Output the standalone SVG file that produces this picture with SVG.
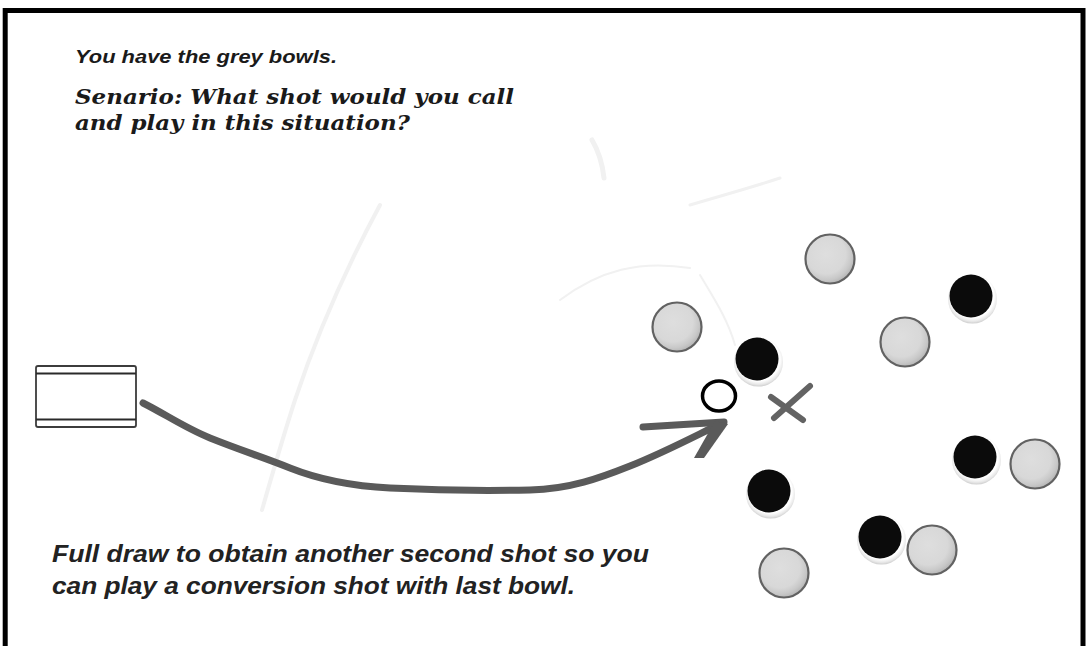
<svg xmlns="http://www.w3.org/2000/svg" width="1091" height="646" viewBox="0 0 1091 646">
  <defs>
    <radialGradient id="greyFill" cx="0.42" cy="0.4" r="0.62">
      <stop offset="0" stop-color="#dedede"/>
      <stop offset="0.65" stop-color="#d8d8d8"/>
      <stop offset="0.85" stop-color="#c8c8c8"/>
      <stop offset="1" stop-color="#b4b4b4"/>
    </radialGradient>
    <radialGradient id="haloFill" cx="0.5" cy="0.45" r="0.55">
      <stop offset="0.8" stop-color="#ffffff"/>
      <stop offset="0.92" stop-color="#e8e8e8"/>
      <stop offset="1" stop-color="#cfcfcf"/>
    </radialGradient>
    <g id="greyBowl">
      <circle r="24.5" fill="url(#greyFill)" stroke="#626262" stroke-width="2.2"/>
    </g>
    <g id="blackBowl">
      <circle cx="1.5" cy="3" r="24.5" fill="url(#haloFill)"/>
      <circle r="21.5" fill="#0b0b0b"/>
    </g>
  </defs>
  <style>
    .faint { fill: none; stroke: #f1f1f1; stroke-linecap: round; }
    .hdr { font-family: "Liberation Sans", Arial, sans-serif; font-weight: bold; font-style: italic; fill: #1a1a1a; }
    .q { font-family: "DejaVu Serif", "Liberation Serif", serif; font-weight: bold; font-style: italic; fill: #1a1a1a; }
    .ans { font-family: "Liberation Sans", Arial, sans-serif; font-weight: bold; font-style: italic; fill: #222; }
    .shot { fill: none; stroke: #5a5a5a; stroke-width: 7; stroke-linecap: round; stroke-linejoin: round; }
  </style>

  <rect x="0" y="0" width="1091" height="646" fill="#ffffff"/>

  <g id="background-sketch">
    <path class="faint" stroke-width="4" d="M380,205 C345,270 315,340 295,400 C282,440 272,475 262,510"/>
    <path class="faint" stroke-width="3" d="M690,205 C720,196 750,188 780,178"/>
    <path class="faint" stroke-width="5" d="M592,140 C598,150 602,160 604,178"/>
    <path class="faint" stroke-width="2" d="M560,300 C600,270 640,260 690,268"/>
    <path class="faint" stroke-width="2" d="M700,275 C715,300 728,320 735,345"/>
  </g>

  <g id="frame">
    <path d="M5.2,660 V10.5 H1083 V660" fill="none" stroke="#000" stroke-width="5"/>
  </g>

  <g id="title-text">
    <text class="hdr" x="75" y="63" font-size="17.5" textLength="262" lengthAdjust="spacingAndGlyphs">You have the grey bowls.</text>
  </g>
  <g id="question-text">
    <text class="q" x="75" y="104" font-size="20" textLength="439" lengthAdjust="spacingAndGlyphs">Senario: What shot would you call</text>
    <text class="q" x="75" y="130" font-size="20" textLength="335" lengthAdjust="spacingAndGlyphs">and play in this situation?</text>
  </g>

  <g id="mat">
    <rect x="36" y="366" width="100" height="61" rx="2" fill="#fff" stroke="#3c3c3c" stroke-width="1.8"/>
    <line x1="36" y1="373.5" x2="136" y2="373.5" stroke="#2a2a2a" stroke-width="1.8"/>
    <line x1="36" y1="419.5" x2="136" y2="419.5" stroke="#2a2a2a" stroke-width="1.8"/>
  </g>

  <g id="connectors">
    <path class="shot" d="M143,403 C165,414 185,428 210,438 C240,450 265,458 290,468 C320,480 350,486 390,488 C430,490 480,491 530,490 C570,489 600,478 630,466 C665,452 695,436 720,424"/>
    <line class="shot" x1="643" y1="427" x2="724" y2="422"/>
    <polygon points="715,421 728,424 704,458 694,458" fill="#5a5a5a"/>
  </g>

  <g id="jack">
    <ellipse cx="719" cy="396" rx="16.5" ry="15" fill="#fff" stroke="#000" stroke-width="3.5"/>
  </g>

  <g id="target-x">
    <line x1="771" y1="397" x2="803" y2="420" stroke="#636363" stroke-width="6" stroke-linecap="round"/>
    <line x1="810" y1="386" x2="774" y2="418" stroke="#636363" stroke-width="6" stroke-linecap="round"/>
  </g>

  <g id="grey-bowls">
    <use id="grey1" href="#greyBowl" x="830" y="259"/>
    <use id="grey2" href="#greyBowl" x="677" y="327"/>
    <use id="grey3" href="#greyBowl" x="905" y="342"/>
    <use id="grey4" href="#greyBowl" x="1035" y="464"/>
    <use id="grey5" href="#greyBowl" x="932" y="550"/>
    <use id="grey6" href="#greyBowl" x="784" y="573"/>
  </g>

  <g id="black-bowls">
    <use id="black1" href="#blackBowl" x="971" y="296"/>
    <use id="black2" href="#blackBowl" x="757" y="359"/>
    <use id="black3" href="#blackBowl" x="975" y="457"/>
    <use id="black4" href="#blackBowl" x="769" y="491"/>
    <use id="black5" href="#blackBowl" x="880" y="537"/>
  </g>

  <g id="answer-text">
    <text class="ans" x="52" y="562" font-size="24" textLength="597" lengthAdjust="spacingAndGlyphs">Full draw to obtain another second shot so you</text>
    <text class="ans" x="52" y="594" font-size="24" textLength="523" lengthAdjust="spacingAndGlyphs">can play a conversion shot with last bowl.</text>
  </g>
</svg>
